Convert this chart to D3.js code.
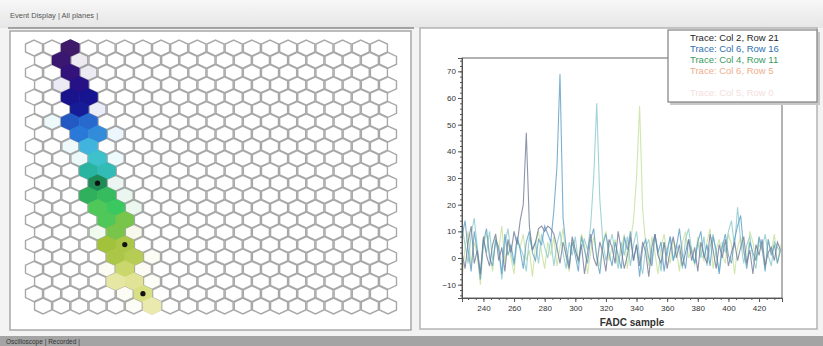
<!DOCTYPE html>
<html>
<head>
<meta charset="utf-8">
<script src="https://cdn.jsdelivr.net/npm/d3@7"></script>
<style>
  body { margin: 0; background: #f3f3f3; }
  svg { display: block; font-family: "Liberation Sans", Arial, sans-serif; }
</style>
</head>
<body>
<div id="container"></div>
<script>
// figure size
let width = 823,
  height = 346

// hex pad hits: [row, col, time fraction along the track]
const trackHits = [
  [0, 2, 0.00], [1, 1, 0.04], [2, 2, 0.09], [3, 2, 0.16],
  [4, 2, 0.22], [4, 3, 0.24], [5, 2, 0.26], [6, 2, 0.34], [6, 3, 0.36],
  [7, 2, 0.38], [7, 3, 0.40], [8, 3, 0.44], [9, 3, 0.48],
  [10, 3, 0.52], [10, 4, 0.50], [11, 3, 0.58], [12, 3, 0.64], [12, 4, 0.66],
  [13, 4, 0.68], [13, 3, 0.70], [14, 4, 0.70], [14, 5, 0.74], [15, 4, 0.74],
  [16, 5, 0.80], [16, 4, 0.78], [17, 4, 0.80], [17, 5, 0.82], [18, 5, 0.86],
  [19, 5, 0.93], [19, 4, 0.95], [20, 6, 0.90], [21, 6, 0.97]
]
// weak neighbouring hits
const faintHits = [
  [1, 2, 0.05], [2, 3, 0.10], [3, 1, 0.15], [5, 3, 0.30], [6, 1, 0.45],
  [7, 4, 0.42], [8, 2, 0.45], [9, 2, 0.50], [9, 4, 0.46], [11, 4, 0.55],
  [12, 5, 0.60], [13, 5, 0.62], [15, 3, 0.72], [15, 5, 0.78], [17, 6, 0.88],
  [18, 4, 0.90], [18, 6, 0.92], [19, 6, 0.95], [20, 5, 0.92], [21, 5, 0.97]
]
// pads whose traces are shown
const tracePads = [[11, 3], [16, 5], [20, 6]]

// FADC traces, one value every 2 samples from 226 to 434
const samples = d3.range(226, 436, 2)
const traceA = [2,-4,6,12,-2,3,-6,8,1,-3, 5,9,-1,4,-5,7,2,10,5,14, 20,47,12,3,6,11,12,10,12,11,
  9,4,-2,6,1,-4,8,3,-1,5, -6,2,9,0,-3,6,2,-5,7,4, -2,10,3,-4,1,8,-1,5,-3,6,
  2,-7,4,9,1,-2,6,-4,3,8, 0,5,-3,2,7,-1,4,-5,6,1, -2,9,3,-4,5,0,7,-3,2,6,
  -1,4,8,-2,3,-6,5,1,7,-3, 2,4,-1,6,3]
const traceB = [8,14,3,-5,10,2,-8,6,11,0, -3,7,4,-6,9,1,5,-2,8,3, -4,6,10,2,-1,7,5,12,9,6,
  18,34,69,15,4,-3,6,1,-5,8, 3,-2,7,11,0,-6,5,9,2,-3, 6,1,-4,8,3,10,-1,5,-7,4,
  7,0,-3,9,2,6,-5,3,8,-1, 4,11,1,-4,7,2,-2,6,10,0, 5,-3,8,3,-6,4,9,1,-2,7,
  12,16,3,-4,6,2,-1,8,4,-5, 7,1,5,-2,3]
const traceC = [12,5,-2,9,15,4,-6,7,2,10, -1,6,3,-8,5,11,2,-3,7,4, 1,-5,8,3,6,-2,9,4,0,7,
  -3,5,10,2,-4,6,1,8,-2,4, 7,3,12,30,58,22,6,-1,4,9, 2,-4,6,1,8,-3,5,10,0,-6,
  4,7,-2,9,3,-5,6,1,8,-1, 5,2,-4,7,11,3,-2,6,0,8, -3,4,9,1,-5,6,2,10,14,4,
  19,6,-2,5,8,0,-4,7,3,9, 1,-3,6,4,2]
const traceD = [-8,4,10,-3,6,1,-10,5,9,2, -5,8,3,12,-2,6,0,-6,7,4, 9,-1,3,-7,5,10,2,-4,6,1,
  8,-3,4,11,0,-5,7,3,-2,9, 5,-6,2,8,1,-3,6,10,-1,4, 7,-2,3,9,-4,6,14,30,57,18,
  5,-3,8,2,-6,4,9,1,-2,7, 3,-5,6,10,0,4,-3,8,2,-1, 6,11,-4,3,7,1,-2,9,5,-6,
  4,8,2,-3,10,6,-1,5,3,-4, 7,2,9,-2,5]
const traceLabels = ['Trace: Col 2, Row 21', 'Trace: Col 6, Row 16', 'Trace: Col 4, Row 11', 'Trace: Col 6, Row 5']
const yTicks = [-10, 0, 10, 20, 30, 40, 50, 60, 70]
const xTicks = [240, 260, 280, 300, 320, 340, 360, 380, 400, 420]

let svg = d3.select('#container')
  .append('svg')
  .attr('width', width)
  .attr('height', height)

// window chrome: tab bars and panels
let grad = svg.append('defs').append('linearGradient')
  .attr('id', 'tabbar').attr('x1', 0).attr('x2', 0).attr('y1', 0).attr('y2', 1)
grad.append('stop').attr('offset', 0).attr('stop-color', '#f7f7f7')
grad.append('stop').attr('offset', 1).attr('stop-color', '#e6e6e6')

svg.append('rect').attr('x', 0).attr('y', 0).attr('width', width).attr('height', 28).attr('fill', 'url(#tabbar)')
svg.append('line').attr('x1', 8).attr('x2', 414).attr('y1', 28).attr('y2', 28).attr('stroke', '#8a8a8a').attr('stroke-width', 1.5)
svg.append('text').attr('x', 10).attr('y', 18).attr('font-size', 7.5).attr('fill', '#555')
  .text('Event Display | All planes |')

svg.append('rect').attr('x', 10).attr('y', 31).attr('width', 401).attr('height', 299)
  .attr('fill', '#fff').attr('stroke', '#a8a8a8').attr('stroke-width', 1.5)
svg.append('rect').attr('x', 420).attr('y', 28).attr('width', 397).attr('height', 301)
  .attr('fill', '#fff').attr('stroke', '#b4b4b4').attr('stroke-width', 1.5)

svg.append('rect').attr('x', 0).attr('y', 336).attr('width', width).attr('height', 10).attr('fill', '#a4a4a4')
svg.append('text').attr('x', 6).attr('y', 344).attr('font-size', 6.5).attr('fill', '#333')
  .text('Oscilloscope | Recorded |')

// ---- hex pad display ----
let hexX = d3.scaleLinear().domain([0, 19.5]).range([34, 388])
let hexY = d3.scaleLinear().domain([0, 21]).range([48, 306])
let padColour = d3.scaleLinear()
  .domain([0, 0.12, 0.25, 0.38, 0.46, 0.52, 0.58, 0.68, 0.78, 0.88, 1])
  .range(['#401a6a', '#2e1080', '#141492', '#2a78d8', '#48c8e0', '#28b4a0', '#1e8a55', '#3cc860', '#a2c23c', '#d4dc78', '#f2eec0'])
  .interpolate(d3.interpolateRgb)

let rx = 8.5, ry = 7.9
let hexPath = 'M0,' + (-ry) + 'L' + rx + ',' + (-ry / 2) + 'L' + rx + ',' + (ry / 2) +
  'L0,' + ry + 'L' + (-rx) + ',' + (ry / 2) + 'L' + (-rx) + ',' + (-ry / 2) + 'Z'

let padPos = (r, c) => [hexX(c + (r % 2) * 0.5), hexY(r)]

let pads = []
d3.range(22).forEach(r => d3.range(20).forEach(c => pads.push([r, c])))

let padLayer = svg.append('g')
padLayer.selectAll('path.pad')
  .data(pads)
  .join('path')
  .attr('class', 'pad')
  .attr('d', hexPath)
  .attr('transform', d => 'translate(' + padPos(d[0], d[1]) + ')')
  .attr('fill', '#fff')
  .attr('stroke', '#a8a8a8')
  .attr('stroke-width', 1.4)

padLayer.selectAll('path.faint')
  .data(faintHits)
  .join('path')
  .attr('class', 'faint')
  .attr('d', hexPath)
  .attr('transform', d => 'translate(' + padPos(d[0], d[1]) + ')')
  .attr('fill', d => padColour(d[2]))
  .attr('fill-opacity', 0.09)

padLayer.selectAll('path.hit')
  .data(trackHits)
  .join('path')
  .attr('class', 'hit')
  .attr('d', hexPath)
  .attr('transform', d => 'translate(' + padPos(d[0], d[1]) + ')')
  .attr('fill', d => padColour(d[2]))
  .attr('stroke', d => padColour(d[2]))
  .attr('stroke-width', 1.6)

padLayer.selectAll('circle.sel')
  .data(tracePads)
  .join('circle')
  .attr('class', 'sel')
  .attr('cx', d => padPos(d[0], d[1])[0])
  .attr('cy', d => padPos(d[0], d[1])[1])
  .attr('r', 2.6)
  .attr('fill', '#111')

// ---- trace plot ----
let x = d3.scaleLinear().domain([226, 435]).range([462, 782])
let y = d3.scaleLinear().domain([-15, 75]).range([298, 58])

let plot = svg.append('g')

let traces = [
  { values: traceD, colour: '#c4e09a' },
  { values: traceC, colour: '#8ac8cc' },
  { values: traceB, colour: '#5c9cc4' },
  { values: traceA, colour: '#727b96' }
]
let line = d3.line()
  .x((d, i) => x(samples[i]))
  .y(d => y(d))

plot.selectAll('path.trace')
  .data(traces)
  .join('path')
  .attr('class', 'trace')
  .attr('d', d => line(d.values))
  .attr('fill', 'none')
  .attr('stroke', d => d.colour)
  .attr('stroke-width', 1.1)
  .attr('stroke-opacity', 0.8)

plot.append('rect')
  .attr('x', 462).attr('y', 58).attr('width', 320).attr('height', 240)
  .attr('fill', 'none').attr('stroke', '#555').attr('stroke-width', 0.9)

let yAxis = d3.axisLeft(y).tickValues(yTicks).tickSize(4).tickPadding(2)
let yMinor = d3.axisLeft(y).tickValues(d3.range(-14, 76, 2)).tickSize(2).tickFormat('')
let xAxis = d3.axisBottom(x).tickValues(xTicks).tickSize(4).tickPadding(3)
let xMinor = d3.axisBottom(x).tickValues(d3.range(230, 435, 5)).tickSize(2).tickFormat('')

plot.append('g').attr('transform', 'translate(462,0)').call(yMinor)
plot.append('g').attr('transform', 'translate(462,0)').call(yAxis)
plot.append('g').attr('transform', 'translate(0,298)').call(xMinor)
plot.append('g').attr('transform', 'translate(0,298)').call(xAxis)
plot.selectAll('.domain').attr('stroke', '#555')
plot.selectAll('.tick line').attr('stroke', '#555')
plot.selectAll('.tick text').attr('font-size', 8).attr('fill', '#333')
  .attr('font-family', '"Liberation Sans", Arial, sans-serif')

plot.append('text')
  .attr('x', 632).attr('y', 326)
  .attr('text-anchor', 'middle')
  .attr('font-size', 10)
  .attr('font-weight', 'bold')
  .attr('fill', '#333')
  .text('FADC sample')

// legend
let legend = svg.append('g')
legend.append('rect').attr('x', 670).attr('y', 32).attr('width', 150).attr('height', 73).attr('fill', '#c8c8c8')
legend.append('rect').attr('x', 668).attr('y', 30).attr('width', 149).attr('height', 72)
  .attr('fill', '#fff').attr('stroke', '#808080').attr('stroke-width', 1.2)
let legendColours = ['#1e1e1e', '#2e6fae', '#3a9a62', '#efae8c']
legend.selectAll('text.entry')
  .data(traceLabels)
  .join('text')
  .attr('class', 'entry')
  .attr('x', 690)
  .attr('y', (d, i) => 41 + i * 11)
  .attr('font-size', 9.5)
  .attr('fill', (d, i) => legendColours[i])
  .text(d => d)
legend.append('text').attr('x', 690).attr('y', 96).attr('font-size', 9.5)
  .attr('fill', '#f4dede').text('Trace: Col 5, Row 0')
</script>
</body>
</html>
